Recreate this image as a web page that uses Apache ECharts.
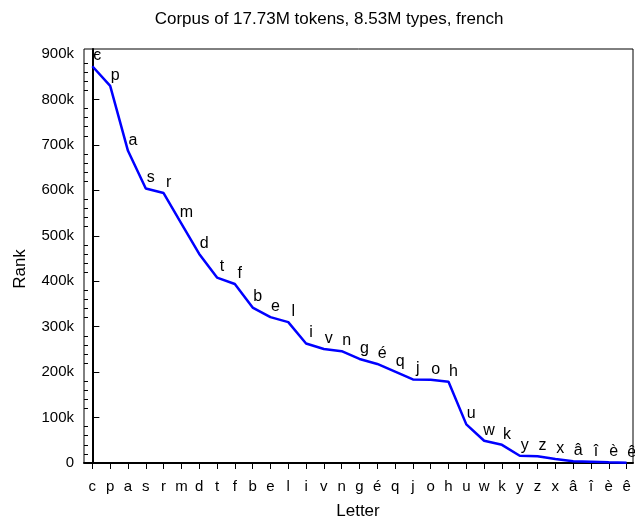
<!DOCTYPE html>
<html>
<head>
<meta charset="utf-8">
<script src="https://cdn.jsdelivr.net/npm/echarts@6/dist/echarts.min.js"></script>
<style>html,body{margin:0;padding:0;background:#fff}#c{width:635px;height:527px}</style>
</head>
<body>
<div id="c"></div>
<script>
const letters = ['c','p','a','s','r','m','d','t','f','b','e','l','i','v','n','g','é','q','j','o','h','u','w','k','y','z','x','â','î','è','ê'];
const ranks = [873000, 830000, 687000, 604000, 594000, 527000, 460000, 408000, 394000, 342000, 321000, 310000, 263000, 251000, 246000, 229000, 218000, 201000, 184000, 183000, 179000, 85000, 49000, 40000, 16000, 15000, 9000, 4000, 3000, 1500, 500];
const yMajor = [0, 100000, 200000, 300000, 400000, 500000, 600000, 700000, 800000, 900000];
const titleText = 'Corpus of 17.73M tokens, 8.53M types, french';

const idx = letters.map((_, i) => i);
const yMinor = [];
for (let v = 20000; v < 911000; v += 20000) { if (v % 100000 !== 0) yMinor.push(v); }

const FONT = 'Liberation Sans, Arial, sans-serif';
const chart = echarts.init(document.getElementById('c'), null, {renderer: 'canvas'});
chart.setOption({
  animation: false,
  backgroundColor: '#fff',
  textStyle: {fontFamily: FONT},
  graphic: [
    {type: 'text', x: 329, y: 19,
      style: {text: titleText, fill: '#000', font: '17px ' + FONT, align: 'center', verticalAlign: 'middle'}},
    {type: 'text', x: 20, y: 269, rotation: Math.PI / 2,
      style: {text: 'Rank', fill: '#000', font: '17px ' + FONT, align: 'center', verticalAlign: 'middle'}},
    {type: 'text', x: 358, y: 511,
      style: {text: 'Letter', fill: '#000', font: '17px ' + FONT, align: 'center', verticalAlign: 'middle'}}
  ],
  grid: {left: 84, right: 2, top: 49, bottom: 64, show: true, borderColor: '#000', borderWidth: 1, backgroundColor: 'transparent'},
  xAxis: {
    type: 'value', min: -0.47, max: 30.36,
    axisLine: {show: true, lineStyle: {color: '#000', width: 2}},
    axisTick: {show: true, customValues: idx, length: 6, inside: false, lineStyle: {color: '#000', width: 1}},
    axisLabel: {show: true, customValues: idx, margin: 16, fontSize: 15, color: '#000', fontFamily: FONT,
      formatter: v => letters[Math.round(v)]},
    splitLine: {show: false}
  },
  yAxis: [{
    type: 'value', min: 0, max: 911000,
    axisLine: {show: true, lineStyle: {color: '#000', width: 2}},
    axisTick: {show: true, customValues: yMajor, length: 7, inside: true, lineStyle: {color: '#000', width: 1}},
    axisLabel: {show: true, customValues: yMajor, margin: 10, fontSize: 15, color: '#000', fontFamily: FONT,
      formatter: v => v === 0 ? '0' : (v / 1000) + 'k'},
    splitLine: {show: false}
  }, {
    type: 'value', min: 0, max: 911000, position: 'left',
    axisLine: {show: false},
    axisTick: {show: true, customValues: yMinor, length: 4, inside: true, lineStyle: {color: '#000', width: 1}},
    axisLabel: {show: false},
    splitLine: {show: false}
  }],
  series: [{
    type: 'line',
    data: ranks.map((v, i) => [i, v]),
    symbol: 'circle', symbolSize: 1, showSymbol: true,
    itemStyle: {color: 'rgba(0,0,255,0)'},
    lineStyle: {color: '#0000ff', width: 2.5},
    label: {show: true, position: 'top', distance: 2, offset: [5, 0], fontSize: 16, color: '#000', fontFamily: FONT,
      formatter: p => letters[p.dataIndex]},
    clip: false,
    z: 3
  }]
});
</script>
</body>
</html>
